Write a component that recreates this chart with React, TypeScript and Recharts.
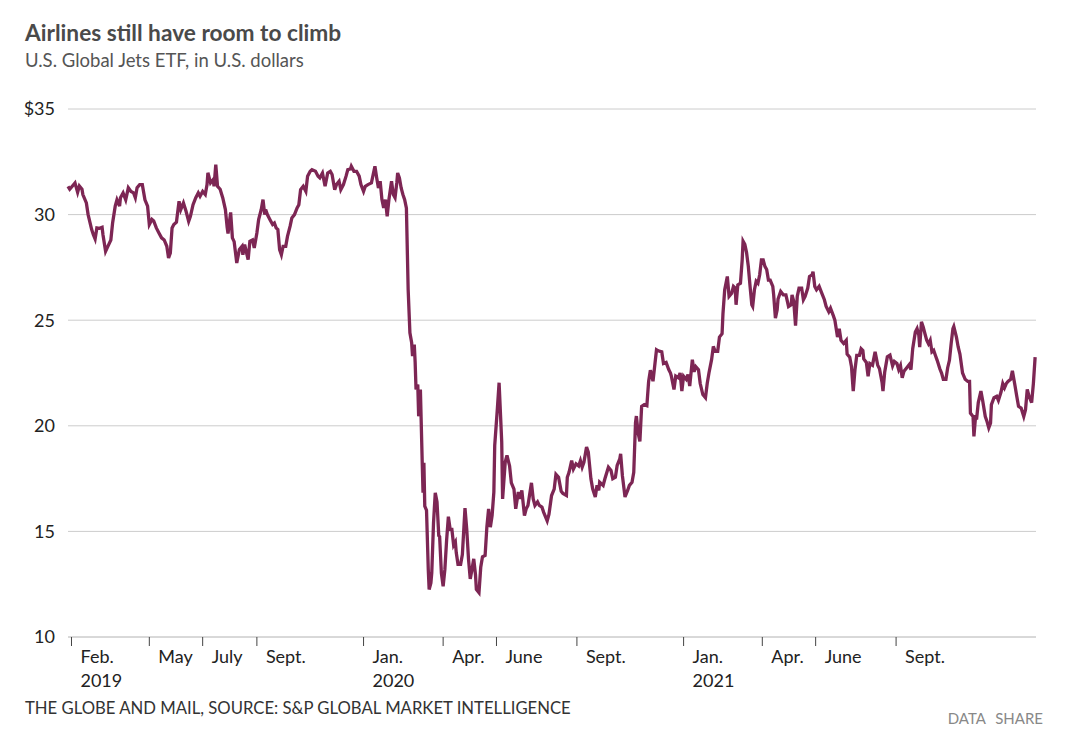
import React from 'react';
import { LineChart, Line, XAxis, YAxis, CartesianGrid } from 'recharts';

// day offsets count from 2019-01-28 (left edge of the plot)
const START = Date.UTC(2019, 0, 28);
const DAY_MS = 86400000;
const LAST_DAY = 1107;

const DAYS = [
  0, 2, 8, 11, 13, 16, 17, 21, 23, 27, 29, 31, 33, 36, 39, 40, 43, 46, 49, 51,
  54, 56, 59, 60, 63, 66, 69, 72, 75, 77, 79, 82, 85, 88, 91, 93, 96, 98, 101, 104,
  107, 110, 113, 115, 117, 119, 121, 124, 127, 129, 132, 135, 138, 140, 143, 146, 149, 151, 154, 157,
  159, 160, 163, 166, 167, 169, 171, 174, 177, 180, 182, 183, 186, 188, 190, 193, 196, 199, 200, 202,
  206, 208, 211, 213, 216, 218, 221, 223, 225, 226, 228, 231, 234, 236, 238, 240, 242, 244, 246, 249,
  251, 254, 256, 259, 262, 264, 266, 269, 272, 274, 277, 279, 283, 286, 288, 291, 294, 297, 300, 302,
  305, 307, 310, 312, 315, 318, 320, 323, 324, 327, 330, 333, 335, 338, 340, 343, 347, 349, 351, 353,
  355, 357, 359, 361, 363, 365, 367, 370, 372, 374, 376, 377, 379, 381, 383, 385, 387, 389, 391, 393,
  394, 396, 397, 398, 400, 401, 403, 405, 406, 407, 408, 410, 412, 413, 415, 416, 418, 420, 422, 424,
  425, 427, 429, 431, 433, 435, 437, 439, 441, 443, 444, 446, 449, 451, 454, 456, 458, 460, 462, 464,
  466, 467, 470, 472, 474, 477, 479, 481, 483, 485, 487, 488, 491, 493, 496, 497, 500, 502, 505, 507,
  510, 512, 515, 517, 519, 522, 524, 526, 530, 532, 534, 537, 539, 542, 544, 548, 550, 553, 556, 558,
  561, 564, 566, 570, 571, 573, 576, 578, 581, 584, 586, 588, 590, 593, 595, 598, 600, 603, 605, 607,
  608, 612, 614, 618, 621, 623, 626, 628, 631, 632, 634, 637, 640, 642, 645, 647, 649, 650, 652, 654,
  656, 659, 662, 664, 666, 669, 673, 675, 679, 681, 684, 687, 689, 690, 693, 695, 698, 700, 702, 704,
  707, 709, 711, 714, 716, 718, 721, 723, 726, 729, 731, 733, 736, 738, 740, 743, 745, 748, 749, 751,
  754, 756, 759, 761, 763, 764, 766, 769, 771, 772, 774, 776, 778, 780, 782, 783, 785, 787, 789, 791,
  793, 795, 797, 799, 801, 803, 806, 807, 809, 811, 812, 815, 818, 821, 824, 827, 828, 830, 832, 834,
  836, 839, 841, 843, 846, 848, 851, 852, 854, 856, 859, 862, 865, 867, 870, 872, 875, 877, 880, 882,
  884, 887, 890, 891, 894, 896, 898, 900, 902, 905, 907, 909, 910, 913, 915, 917, 920, 923, 926, 928,
  931, 932, 934, 937, 940, 943, 945, 948, 950, 952, 954, 956, 959, 962, 964, 966, 969, 971, 973, 974,
  976, 978, 980, 982, 984, 986, 988, 990, 992, 994, 997, 999, 1001, 1004, 1006, 1008, 1010, 1012, 1013, 1016,
  1018, 1020, 1023, 1026, 1029, 1031, 1032, 1035, 1036, 1038, 1039, 1041, 1044, 1046, 1049, 1051, 1053, 1055, 1056, 1059,
  1062, 1064, 1067, 1069, 1071, 1073, 1075, 1078, 1080, 1083, 1085, 1087, 1090, 1093, 1095, 1097, 1099, 1102, 1104, 1106,
];

const PRICES = [
  31.34, 31.2, 31.5, 31.05, 31.35, 31.2, 30.95, 30.55, 30.0, 29.3, 29.05, 28.85, 29.37, 29.35, 29.4, 29.05, 28.26, 28.53, 28.8, 29.6,
  30.4, 30.7, 30.4, 30.8, 31.03, 30.7, 31.27, 31.1, 31.03, 30.8, 31.27, 31.42, 31.42, 30.7, 30.4, 29.53, 29.77, 29.7, 29.37, 29.13,
  28.9, 28.8, 28.5, 27.95, 28.18, 29.37, 29.53, 29.64, 30.63, 30.24, 30.55, 30.16, 29.68, 29.92, 30.47, 30.79, 31.03, 30.87, 31.1, 30.95,
  31.42, 31.98, 31.5, 31.66, 31.34, 32.37, 31.34, 31.2, 30.79, 30.24, 29.4, 29.1, 30.1, 28.9, 28.72, 27.71, 28.35, 28.5, 28.1, 28.58,
  27.87, 28.74, 28.8, 28.42, 29.13, 29.76, 30.24, 30.71, 30.0, 30.24, 30.0, 29.76, 29.53, 29.6, 29.37, 29.29, 28.34, 28.1, 28.5, 28.5,
  28.97, 29.45, 29.84, 30.0, 30.32, 30.47, 31.18, 31.34, 31.1, 31.82, 32.05, 32.13, 32.05, 31.82, 31.74, 31.97, 31.34, 31.97, 32.05, 31.9,
  31.18, 31.42, 31.58, 31.18, 31.42, 31.82, 32.13, 32.16, 32.29, 32.05, 32.05, 31.82, 31.42, 31.1, 31.34, 31.42, 31.5, 31.9, 32.29, 31.74,
  31.26, 31.58, 30.71, 30.32, 30.71, 29.92, 30.71, 31.58, 30.95, 30.8, 31.5, 31.97, 31.74, 31.26, 30.95, 30.71, 30.3, 26.45, 24.4, 23.93,
  23.3, 23.85, 23.0, 21.72, 21.95, 20.45, 21.72, 18.4, 16.83, 18.25, 16.2, 16.0, 13.2, 12.25, 12.56, 13.03, 15.4, 16.83, 16.4, 14.8,
  14.75, 13.03, 12.4, 13.2, 14.6, 15.7, 15.1, 15.1, 14.35, 14.5, 14.0, 13.44, 13.44, 13.9, 16.1, 15.1, 13.7, 12.75, 13.2, 13.7,
  12.95, 12.25, 12.1, 13.3, 13.8, 13.86, 15.2, 16.07, 15.2, 15.75, 16.86, 19.07, 20.8, 22.04, 19.23, 16.54, 18.28, 18.6, 18.1, 17.3,
  17.0, 16.07, 16.86, 16.54, 16.94, 15.75, 16.07, 16.23, 17.3, 16.54, 16.23, 16.4, 16.23, 16.15, 15.9, 15.5, 15.8, 16.7, 17.0, 17.7,
  17.56, 16.9, 16.8, 16.7, 17.56, 17.8, 18.35, 17.95, 18.2, 18.1, 18.35, 18.04, 18.27, 18.99, 18.75, 17.49, 17.02, 16.63, 17.18, 16.94,
  17.33, 17.18, 17.49, 18.04, 17.88, 17.49, 17.56, 18.12, 18.43, 18.67, 17.64, 16.63, 16.94, 17.18, 17.33, 17.8, 20.15, 20.46, 19.66, 19.26,
  20.92, 21.0, 20.95, 22.1, 22.63, 22.11, 23.6, 23.55, 23.5, 22.95, 23.0, 22.66, 22.5, 22.35, 21.72, 22.35, 22.27, 22.5, 21.64, 22.35,
  22.2, 22.43, 21.88, 23.13, 22.56, 22.8, 22.66, 22.0, 21.48, 21.33, 22.0, 22.5, 23.13, 23.76, 23.53, 23.53, 24.2, 24.36, 25.3, 26.44,
  27.07, 26.13, 26.28, 26.6, 26.52, 25.73, 26.67, 26.75, 27.86, 28.74, 28.59, 28.2, 27.55, 26.6, 25.73, 25.65, 26.44, 26.84, 26.75, 27.15,
  27.86, 27.86, 27.55, 27.4, 26.9, 26.9, 26.6, 26.2, 25.1, 25.5, 26.0, 26.36, 26.2, 26.2, 25.65, 25.73, 26.2, 25.88, 24.74, 26.13,
  26.52, 26.52, 25.97, 26.13, 26.52, 27.07, 27.15, 27.3, 26.6, 26.44, 26.6, 26.28, 25.97, 25.65, 25.4, 25.57, 25.24, 25.0, 24.2, 24.6,
  24.05, 23.9, 24.05, 23.4, 23.25, 22.8, 21.64, 22.66, 23.33, 23.33, 23.65, 23.57, 23.17, 23.0, 22.35, 22.95, 22.87, 23.5, 22.87, 22.7,
  22.04, 21.64, 22.55, 23.27, 23.35, 22.84, 23.05, 22.95, 22.66, 22.85, 22.27, 22.58, 22.74, 22.9, 22.66, 23.65, 24.44, 24.6, 24.28, 23.73,
  24.92, 24.68, 24.36, 24.05, 23.88, 24.05, 23.5, 23.57, 23.33, 23.1, 22.7, 22.5, 22.2, 22.2, 22.75, 23.1, 23.9, 24.6, 24.7, 24.2,
  23.73, 23.4, 22.5, 22.2, 22.1, 22.1, 20.6, 20.44, 19.5, 20.5, 20.3, 21.1, 21.64, 21.2, 20.44, 20.2, 19.9, 20.12, 21.0, 21.33,
  21.4, 21.2, 21.6, 22.0, 21.8, 22.0, 22.1, 22.2, 22.6, 21.9, 21.4, 20.92, 20.84, 20.44, 20.76, 21.72, 21.4, 21.1, 22.0, 23.25,
];

const TICK_DATES = [
  '2019-02-01', '2019-05-01', '2019-07-01', '2019-09-01', '2020-01-01', '2020-04-01',
  '2020-06-01', '2020-09-01', '2021-01-01', '2021-04-01', '2021-06-01', '2021-09-01',
];
const TICK_MONTHS = ['Feb.', 'May', 'July', 'Sept.', 'Jan.', 'Apr.', 'June', 'Sept.', 'Jan.', 'Apr.', 'June', 'Sept.'];
const TICK_YEARS = ['2019', '', '', '', '2020', '', '', '', '2021', '', '', ''];
const Y_TICKS = [10, 15, 20, 25, 30, 35];

const FONT = 'Lato, "Open Sans", sans-serif';

const tickDays = TICK_DATES.map((d) => (Date.parse(d) - START) / DAY_MS);
const data = DAYS.map((day, i) => ({ day, price: PRICES[i] }));

function MonthTick(props: any) {
  const { x, y, index } = props;
  return (
    <g>
      <text x={x + 9} y={y + 17} fontSize={18} fill="#222" fontFamily={FONT}>
        {TICK_MONTHS[index]}
      </text>
      {TICK_YEARS[index] && (
        <text x={x + 9} y={y + 41} fontSize={18} fill="#222" fontFamily={FONT}>
          {TICK_YEARS[index]}
        </text>
      )}
    </g>
  );
}

export default function App() {
  return (
    <div style={{ position: 'absolute', left: 0, top: 0, width: 1080, height: 740, background: '#fff', fontFamily: FONT }}>
      <div style={{ position: 'absolute', left: 25, top: 21, fontSize: 22.7, lineHeight: '24px', fontWeight: 700, color: '#4a4a4a', whiteSpace: 'nowrap' }}>
        Airlines still have room to climb
      </div>
      <div style={{ position: 'absolute', left: 25, top: 51, fontSize: 18.5, lineHeight: '18.5px', color: '#555', whiteSpace: 'nowrap' }}>
        U.S. Global Jets ETF, in U.S. dollars
      </div>

      <LineChart width={1080} height={740} data={data} margin={{ top: 109, right: 44, bottom: 73, left: 0 }}>
        <CartesianGrid vertical={false} stroke="#cccccc" />
        <XAxis
          type="number"
          dataKey="day"
          domain={[0, LAST_DAY]}
          ticks={tickDays}
          interval={0}
          height={30}
          tickSize={9}
          tickMargin={0}
          axisLine={{ stroke: '#cccccc' }}
          tickLine={{ stroke: '#444' }}
          tick={(p: any) => <MonthTick {...p} />}
        />
        <YAxis
          domain={[10, 35]}
          ticks={Y_TICKS}
          width={68}
          axisLine={false}
          tickLine={false}
          tickSize={0}
          tickMargin={13}
          tickFormatter={(v: number) => (v === 35 ? '$35' : String(v))}
          tick={{ fill: '#222', fontSize: 18, fontFamily: FONT }}
        />
        <Line
          type="linear"
          dataKey="price"
          stroke="#7d2654"
          strokeWidth={3.3}
          dot={false}
          isAnimationActive={false}
        />
      </LineChart>

      <div style={{ position: 'absolute', left: 25, top: 700, fontSize: 16.7, lineHeight: '16.7px', color: '#333', whiteSpace: 'nowrap' }}>
        THE GLOBE AND MAIL, SOURCE: S&amp;P GLOBAL MARKET INTELLIGENCE
      </div>
      <div style={{ position: 'absolute', right: 37, top: 711, fontSize: 15, lineHeight: '15px', color: '#888', whiteSpace: 'nowrap', wordSpacing: 6 }}>
        DATA SHARE
      </div>
    </div>
  );
}
